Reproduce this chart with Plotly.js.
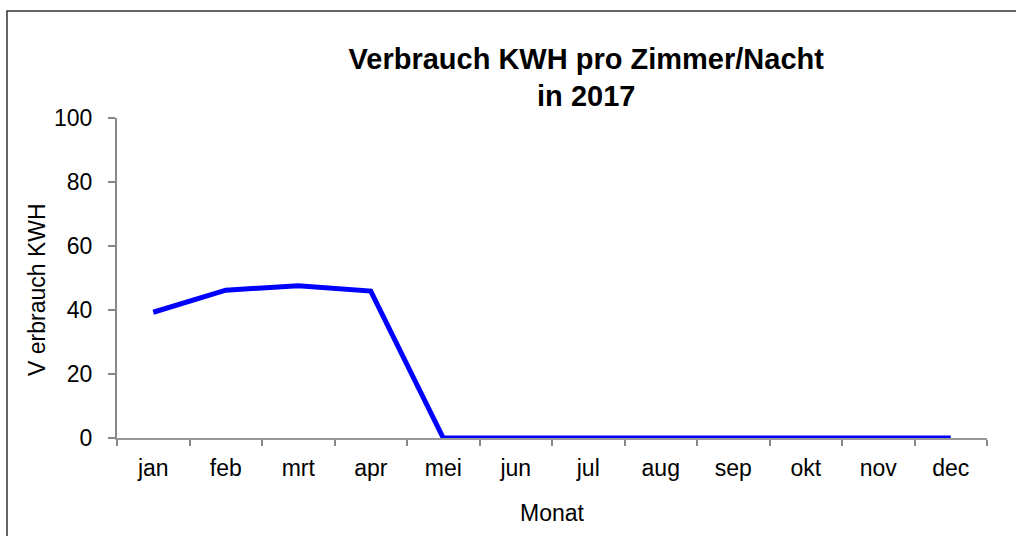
<!DOCTYPE html>
<html>
<head>
<meta charset="utf-8">
<script src="https://cdn.plot.ly/plotly-3.0.1.min.js"></script>
<style>html,body{margin:0;padding:0;background:#fff;}#chart{width:1016px;height:536px;}</style>
</head>
<body>
<div id="chart"></div>
<script>
const months = ["jan","feb","mrt","apr","mei","jun","jul","aug","sep","okt","nov","dec"];
const verbrauch = [39.3, 46.2, 47.6, 45.9, 0, 0, 0, 0, 0, 0, 0, 0];
const yTicks = [0, 20, 40, 60, 80, 100];

const font = "Liberation Sans, Arial, sans-serif";
const trace = {
  x: months, y: verbrauch, type: "scatter", mode: "lines",
  line: {color: "#0000FF", width: 5}, hoverinfo: "skip"
};
const layout = {
  width: 1016, height: 536,
  margin: {l: 117, r: 29, t: 118, b: 98},
  paper_bgcolor: "#fff", plot_bgcolor: "#fff",
  showlegend: false,
  title: {
    text: "<b>Verbrauch KWH pro Zimmer/Nacht<br>in 2017</b>",
    font: {family: font, size: 29, color: "#000"},
    x: 0.577, xanchor: "center", y: 0.872, yanchor: "top"
  },
  xaxis: {
    type: "category", range: [-0.5, 11.5], tickson: "boundaries",
    ticks: "outside", ticklen: 6, tickcolor: "#888", tickwidth: 2,
    showline: true, linecolor: "#999", linewidth: 2,
    showgrid: false, zeroline: false,
    ticklabelstandoff: 8,
    tickfont: {family: font, size: 23, color: "#000"},
    title: {text: "Monat", font: {family: font, size: 23, color: "#000"}, standoff: 25}
  },
  yaxis: {
    range: [0, 100], tickvals: yTicks,
    ticks: "outside", ticklen: 7, tickcolor: "#888", tickwidth: 2,
    showline: true, linecolor: "#888", linewidth: 2,
    showgrid: false, zeroline: false,
    ticklabelstandoff: 11,
    tickfont: {family: font, size: 23, color: "#000"}
  },
  annotations: [{
    text: "V erbrauch KWH", textangle: -90, showarrow: false,
    xref: "paper", yref: "paper", x: (37 - 117) / 870, y: (438 - 290) / 320,
    xanchor: "center", yanchor: "middle",
    font: {family: font, size: 23, color: "#000"}
  }],
  shapes: [{
    type: "rect", xref: "paper", yref: "paper",
    x0: (7 - 117) / 870, x1: 1.2, y0: -0.6, y1: 1 + (118 - 11) / 320,
    line: {color: "#333", width: 1.5}, layer: "below"
  }]
};
Plotly.newPlot("chart", [trace], layout, {displayModeBar: false, staticPlot: true});
</script>
</body>
</html>
